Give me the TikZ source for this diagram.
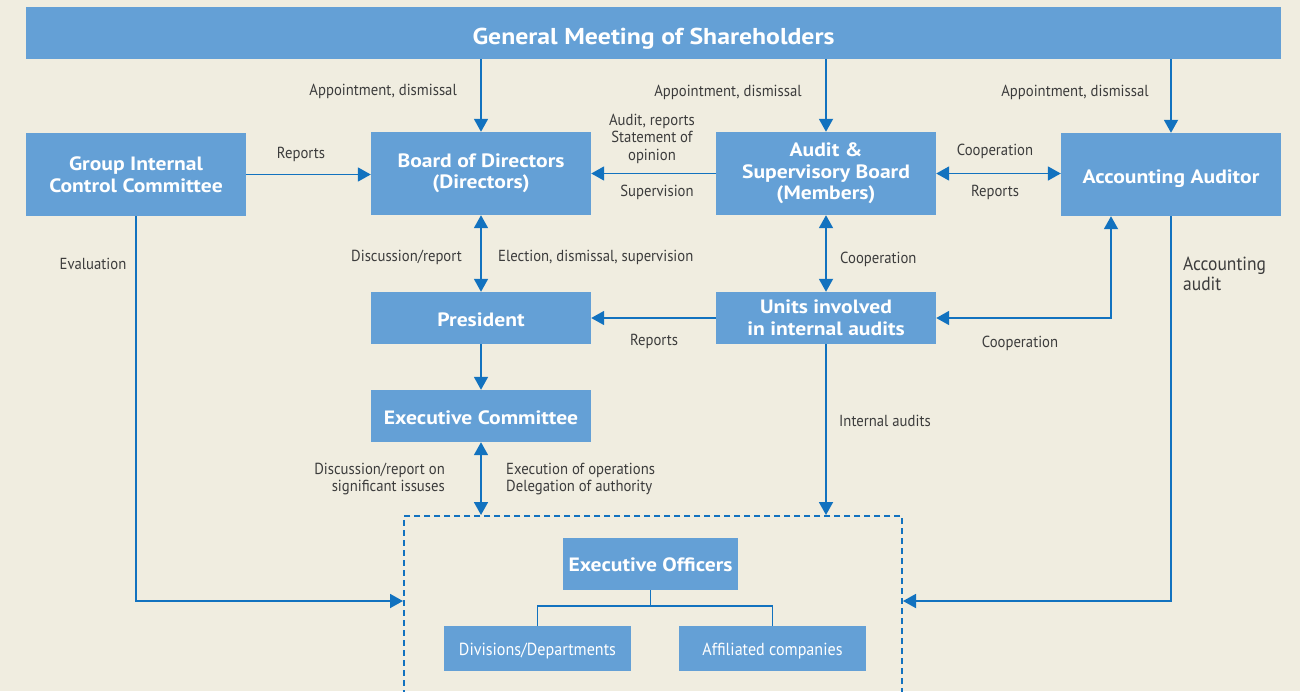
\documentclass[tikz,border=0pt]{standalone}
\usepackage{fontspec}
\setmainfont{PT Sans}
\newfontfamily\lblfont[FakeStretch=0.92]{PT Sans}
\newfontfamily\boxfont[FakeStretch=1.12]{PT Sans}
\usetikzlibrary{arrows.meta,calc}
\definecolor{bg}{HTML}{F0EDE0}
\definecolor{boxc}{HTML}{64A0D6}
\definecolor{arrc}{HTML}{1272BF}
\definecolor{txtc}{HTML}{3C3C3C}
\begin{document}
\begin{tikzpicture}[x=1pt,y=-1pt,
 box/.style={fill=boxc,text=white,font=\boxfont\bfseries\fontsize{19.3}{21.5}\selectfont,align=center,inner sep=0pt,minimum width=220pt,minimum height=52pt},
 one/.style={text height=17pt,text depth=0pt},
 ml/.style={execute at begin node={\rule{0pt}{20pt}}},
 tallbox/.style={box,minimum height=83pt},
 subbox/.style={fill=boxc,text=white,font=\lblfont\fontsize{17.5}{19}\selectfont,inner sep=0pt,minimum width=187pt,minimum height=45pt,text height=14pt,text depth=0pt},
 lbl/.style={text=txtc,font=\lblfont\fontsize{16}{17.5}\selectfont,inner sep=0pt},
 conn/.style={draw=arrc,line width=1.8pt},
 arr/.style={conn,-{Triangle[width=14pt,length=13pt]}},
 darr/.style={conn,{Triangle[width=14pt,length=13pt]}-{Triangle[width=14pt,length=13pt]}},
 grpbox/.style={draw=arrc,line width=2pt,dash pattern=on 6pt off 4pt,minimum width=498pt,minimum height=190pt,inner sep=0pt},
]
\fill[bg] (0,0) rectangle (1300,691);
\useasboundingbox (0,0) rectangle (1300,691);
\clip (0,0) rectangle (1300,691);

% boxes
\node[box,minimum width=1255pt,font=\boxfont\bfseries\fontsize{23}{25}\selectfont,text height=22pt,text depth=0pt] (gm) at (653.5,33) {General Meeting of Shareholders};
\node[tallbox,ml] (gicc) at (136,174.5) {Group Internal\\Control Committee};
\node[tallbox,ml] (bod) at (481,173.5) {Board of Directors\\(Directors)};
\node[tallbox,ml] (asb) at (826,173.5) {Audit \&\\Supervisory Board\\(Members)};
\node[tallbox,one] (aa) at (1171,174.5) {Accounting Auditor};
\node[box,one] (pres) at (481,318) {President};
\node[box,ml] (units) at (826,318) {Units involved\\in internal audits};
\node[box,one] (exec) at (481,416) {Executive Committee};
\node[grpbox] (grp) at (653,611) {};
\node[box,minimum width=175pt,text height=15pt,text depth=0pt] (eo) at (650.5,564) {Executive Officers};
\node[subbox] (div) at (537.5,648.5) {Divisions/Departments};
\node[subbox] (aff) at (772.5,648.5) {Affiliated companies};

\coordinate (ly) at (0,601);
\coordinate (ty) at (0,606);
\coordinate (aaS) at ([xshift=-60pt]aa.south);

% connectors
\draw[arr] (gm.south -| bod) -- (bod.north);
\draw[arr] (gm.south -| asb) -- (asb.north);
\draw[arr] (gm.south -| aa) -- (aa.north);
\draw[arr] (gicc.east) -- (gicc.east -| bod.west);
\draw[arr] (asb.west) -- (asb.west -| bod.east);
\draw[darr] (asb.east) -- (asb.east -| aa.west);
\draw[darr] (bod.south) -- (pres.north);
\draw[darr] (asb.south) -- (units.north);
\draw[arr] (units.west) -- (units.west -| pres.east);
\draw[darr] (units.east) -- (units.east -| aaS) -- (aaS);
\draw[arr] (pres.south) -- (exec.north);
\draw[darr] (exec.south) -- (exec.south |- grp.north);
\draw[arr] (units.south) -- (units.south |- grp.north);
\draw[arr] (gicc.south) -- (gicc.south |- ly) -- (grp.west |- ly);
\draw[arr] (aa.south) -- (aa.south |- ly) -- (grp.east |- ly);
\draw[conn,line width=1.6pt] (eo.south) -- (eo.south |- ty) -| (div.north);
\draw[conn,line width=1.6pt] (eo.south |- ty) -| (aff.north);

% labels
\node[lbl,anchor=east] (l1) at (457,91) {Appointment, dismissal};
\node[lbl] (l2) at (728,92) {Appointment, dismissal};
\node[lbl] (l3) at (1075,92) {Appointment, dismissal};
\node[lbl] (l4) at (301,154) {Reports};
\node[lbl,align=center] (l5) at (652,138.5) {Audit, reports\\Statement of\\opinion};
\node[lbl] (l6) at (657,192) {Supervision};
\node[lbl] (l7) at (995,151) {Cooperation};
\node[lbl] (l8) at (995,192) {Reports};
\node[lbl,anchor=east] (l9) at (462,257) {Discussion/report};
\node[lbl,anchor=west] (l10) at (498,257) {Election, dismissal, supervision};
\node[lbl,anchor=west] (l11) at (840,259) {Cooperation};
\node[lbl] (l12) at (654,341) {Reports};
\node[lbl] (l13) at (1020,343) {Cooperation};
\node[lbl] (l14) at (93,264) {Evaluation};
\node[lbl,anchor=west,align=left,font=\lblfont\fontsize{19}{20}\selectfont] (l15) at (1183,274) {Accounting\\audit};
\node[lbl,anchor=west] (l16) at (839,421) {Internal audits};
\node[lbl,anchor=east,align=right] (l17) at (445,479) {Discussion/report on\\significant issuses};
\node[lbl,anchor=west,align=left] (l18) at (506,479) {Execution of operations\\Delegation of authority};
\end{tikzpicture}
\end{document}
